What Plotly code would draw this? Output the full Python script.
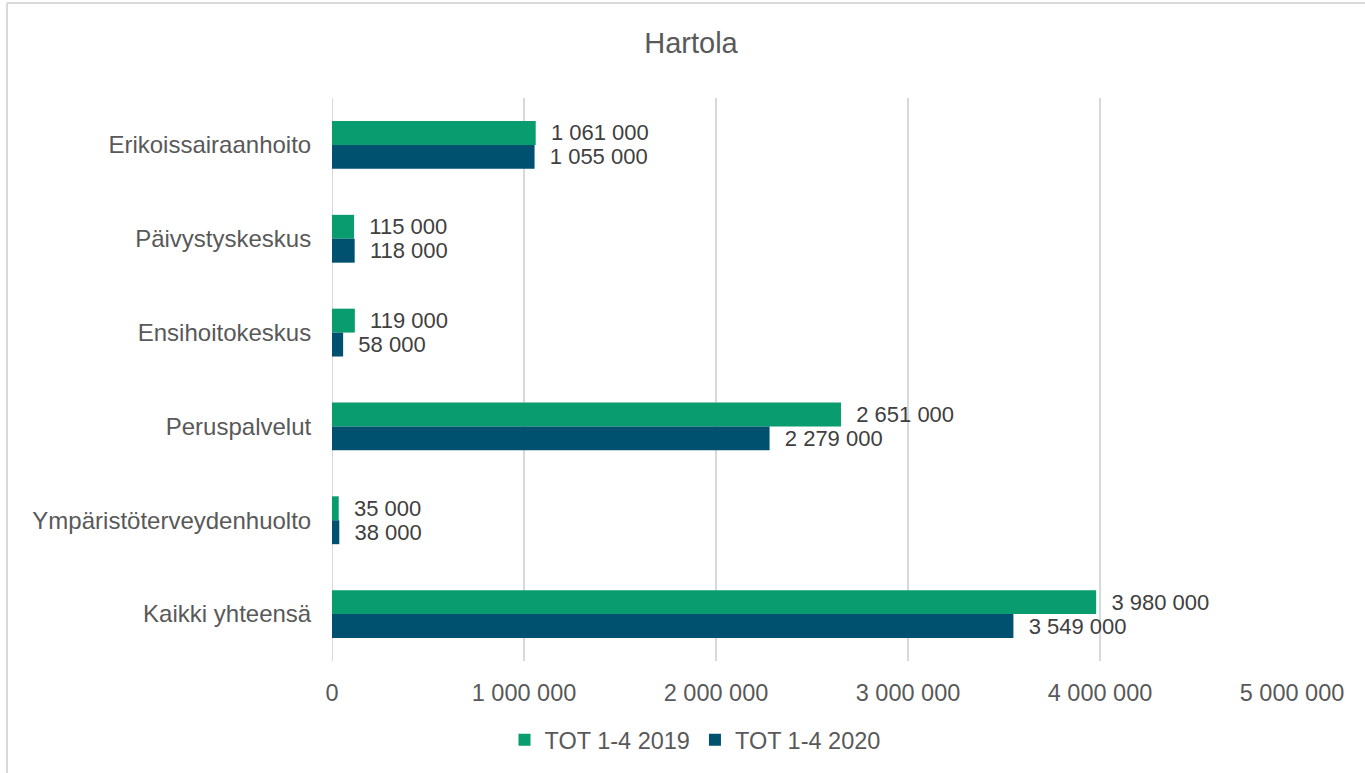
import plotly.graph_objects as go

categories = ["Erikoissairaanhoito", "Päivystyskeskus", "Ensihoitokeskus",
              "Peruspalvelut", "Ympäristöterveydenhuolto", "Kaikki yhteensä"]
values_2019 = [1061000, 115000, 119000, 2651000, 35000, 3980000]
values_2020 = [1055000, 118000, 58000, 2279000, 38000, 3549000]
series_names = ["TOT 1-4 2019", "TOT 1-4 2020"]
tick_vals = [0, 1000000, 2000000, 3000000, 4000000, 5000000]
tick_text = ["0", "1 000 000", "2 000 000", "3 000 000", "4 000 000", "5 000 000"]

def fmt(v):
    return "\u00a0\u00a0" + f"{v:,}".replace(",", " ")

W, H = 1365, 773
L, R, T, B = 332, 73, 98, 112
pw, ph = W - L - R, H - T - B

FONT = "Liberation Sans, Arial, sans-serif"
colors = ["#089C6E", "#00506F"]

fig = go.Figure()
for name, vals, col in zip(series_names, [values_2019, values_2020], colors):
    fig.add_trace(go.Bar(
        y=categories, x=vals, orientation="h", name=name,
        marker=dict(color=col, line=dict(width=0)),
        text=[fmt(v) for v in vals], textposition="outside",
        textfont=dict(family=FONT, size=22, color="#404040"),
        constraintext="none", cliponaxis=False,
    ))

def px_x(p):
    return (p - L) / pw

def px_y(p):
    return (H - B - p) / ph

fig.update_layout(
    width=W, height=H,
    margin=dict(l=L, r=R, t=T, b=B),
    paper_bgcolor="white", plot_bgcolor="white",
    barmode="group", bargap=0.49, bargroupgap=0,
    font=dict(family=FONT, color="#595959", size=23.5),
    title=dict(text="Hartola", x=691 / W, xref="container", y=1 - 43 / H,
               yref="container", xanchor="center", yanchor="middle",
               font=dict(family=FONT, size=29, color="#595959")),
    xaxis=dict(range=[0, 5000000], tickvals=tick_vals, ticktext=tick_text,
               showgrid=True, gridcolor="#D9D9D9", gridwidth=2,
               zeroline=False, showline=False,
               ticks="outside", ticklen=11, tickcolor="rgba(0,0,0,0)",
               tickfont=dict(family=FONT, size=23.5, color="#595959")),
    yaxis=dict(autorange="reversed", showgrid=False, zeroline=False,
               showline=False, ticks="outside", ticklen=15,
               tickcolor="rgba(0,0,0,0)",
               tickfont=dict(family=FONT, size=24, color="#595959")),
    legend=dict(orientation="h", xref="container", yref="container",
                x=695 / W, y=1 - 740 / H, xanchor="center", yanchor="middle",
                font=dict(family=FONT, size=23.5, color="#595959"),
                traceorder="normal", itemwidth=30),
    showlegend=True,
)

# left zero line and outer chart border (top & left)
fig.add_shape(type="line", xref="x", yref="paper", x0=0, x1=0, y0=0, y1=1,
              line=dict(color="#D9D9D9", width=2), layer="below")
fig.add_shape(type="line", xref="paper", yref="paper",
              x0=px_x(7), x1=px_x(W + 5), y0=px_y(3), y1=px_y(3),
              line=dict(color="#D9D9D9", width=2))
fig.add_shape(type="line", xref="paper", yref="paper",
              x0=px_x(7), x1=px_x(7), y0=px_y(3), y1=px_y(H + 5),
              line=dict(color="#D9D9D9", width=2))

fig.write_html("out.html",
               config={"displayModeBar": False},
               post_script="document.body.style.margin='0';"
                           "document.body.style.overflow='hidden';")
